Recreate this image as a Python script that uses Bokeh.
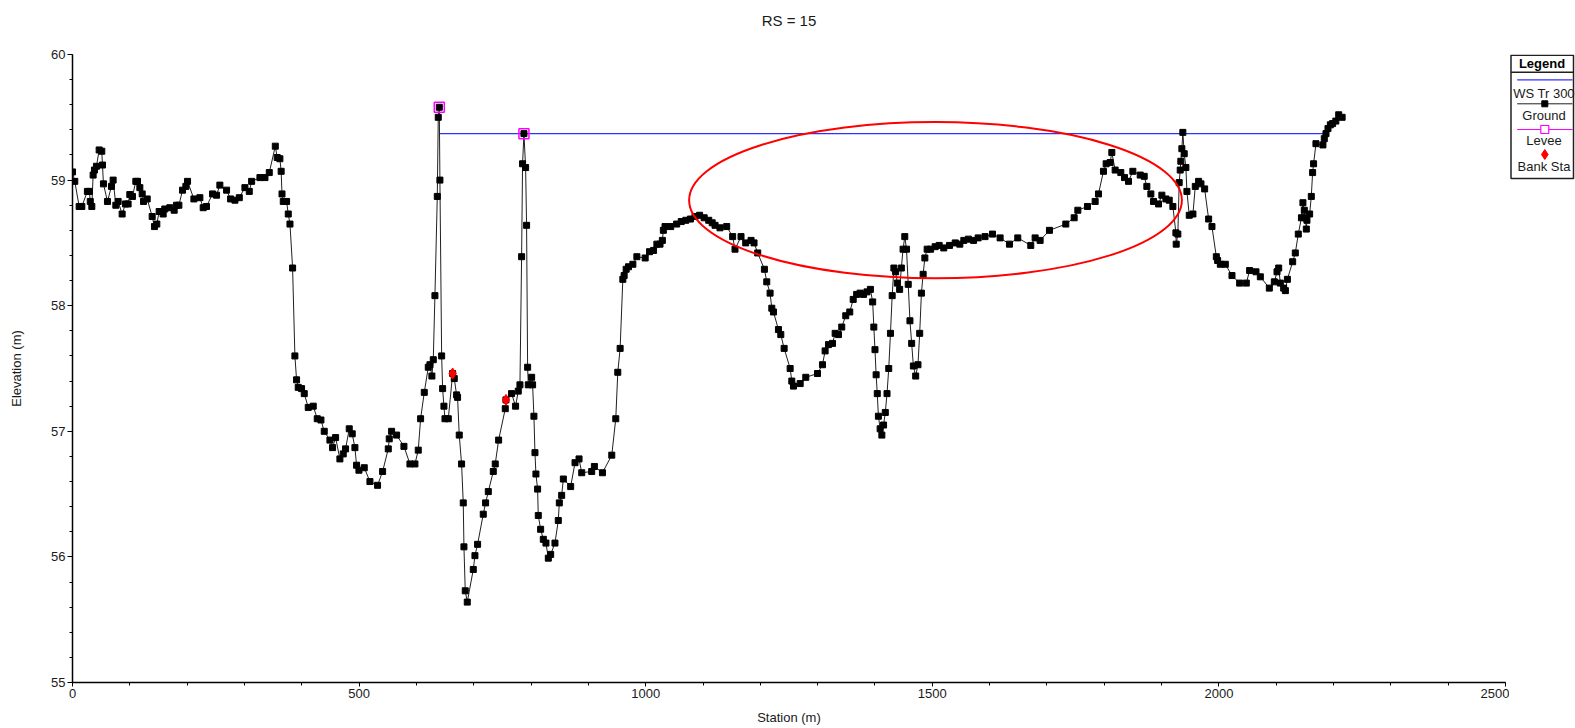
from bokeh.plotting import figure
from bokeh.models import Range1d, FixedTicker, Title
from bokeh.layouts import row
from bokeh.embed import file_html
from bokeh.resources import INLINE
from bokeh.core.properties import value

title_text = "RS = 15"
x_label = "Station (m)"
y_label = "Elevation (m)"
x_ticks = [0, 500, 1000, 1500, 2000, 2500]
y_ticks = [55, 56, 57, 58, 59, 60]
legend_title = "Legend"
legend_labels = ["WS Tr 300", "Ground", "Levee", "Bank Sta"]

ground_station = [
    0, 4, 11.6, 16.3, 26, 29.5, 31, 33.7, 36, 38.3, 41.8, 46.5, 51.1, 52.3, 54, 61, 68, 70.9, 75.6, 79.6,
    86.6, 92.4, 97, 100, 104.6, 110.5, 113.4, 117.5, 121.6, 123.9, 130.3, 139, 143, 147.1, 151.2, 158.2,
    161, 169.8, 177.4, 181.5, 185.6, 192, 197.8, 200.7, 211.8, 222.2, 228, 233.8, 244.3, 251.3, 257.1,
    268.8, 275.8, 283.4, 291, 300.8, 308.4, 312.5, 327, 335.8, 343.3, 353.8, 357.1, 361.8, 364, 365.5,
    367.7, 373.5, 376.4, 379.4, 384,
    388, 390.9, 393.8, 399.6, 404.3, 411.3, 420, 427, 433.4, 439.2, 449.1, 453.7, 459, 466.5, 472.3,
    476.4, 482.8, 488, 492.7, 495.6, 499.7, 509, 518.9, 532.2, 541, 550.9, 552.6, 556.7, 565.4, 578.2,
    588.7, 597.4, 603.2, 607.3, 613.7, 620.7, 623.6, 627, 629.4, 632.3, 636.4, 638.1, 639.9, 641, 644,
    645.7, 648, 649.8, 655.6, 663.2, 666, 670.1, 671.8, 674.7, 678.8, 681.7,
    682.9, 685.2, 688.7, 699.2, 702.1, 706.7, 716.6, 720.7, 725.4, 734.1, 737.5, 743.4, 755, 756.2, 766,
    773, 777.7, 780.6, 783.5, 785.2, 787.6, 790.5, 792.2, 794, 795.2, 801, 802.7, 805, 806.8, 808.5,
    811.4, 812.6, 816.7, 821.4, 826, 830.1, 834.2, 841.7, 847.5, 849.3, 853.4, 856.3, 869.1, 876.7,
    883.7, 888.4, 905.8, 910.5, 924.5, 940.8, 947.8, 951.3, 955.4, 960.1, 962.4, 965.9, 970, 977.6,
    984.6, 999.1, 1006.7, 1013.7, 1019.5, 1025, 1029.1, 1030.8, 1033.7, 1043.6, 1054,
    1062, 1070, 1078, 1086, 1094, 1102, 1110, 1116,
    1121, 1129.6, 1141.3, 1151.7, 1155.8, 1166.3, 1174.5, 1183.8, 1189, 1195.4, 1207.1, 1211.2, 1217,
    1220, 1222.9, 1231.6, 1235.7, 1241.5, 1252, 1254.9, 1257.8, 1269.5, 1279.3, 1299.7, 1308.4, 1313,
    1318.9, 1325.9, 1330.5, 1336.3,
    1342, 1349, 1356, 1362, 1368, 1374, 1380, 1386, 1392, 1396, 1398, 1400, 1402, 1404, 1406, 1409,
    1412, 1415, 1418, 1421, 1424, 1427, 1430, 1433, 1436, 1439, 1443, 1446, 1449, 1452, 1455, 1458,
    1461, 1464, 1467, 1471, 1475, 1478, 1481, 1484, 1487, 1491, 1497, 1505, 1512, 1520, 1530, 1540,
    1548, 1555, 1563, 1572, 1580, 1592, 1605,
    1618.3, 1634.6, 1649.1, 1671.8, 1679.4, 1688.1, 1704.4, 1732.9, 1747.5, 1753.9, 1770.7, 1784.1,
    1789.9, 1798.6, 1803.3, 1810.3, 1813.2, 1819, 1828.9, 1835.3, 1842.3, 1849.9, 1862.7, 1869.7,
    1874.3, 1881.3, 1886, 1894.7, 1900.5, 1907.5, 1913.3, 1919.7, 1925, 1925.5, 1928.4, 1930.7, 1932.5,
    1933.6, 1935.4, 1937.1, 1939.5, 1942.4, 1944.2, 1948.3, 1954.7, 1958.8, 1964.6, 1968.7, 1975.1,
    1982.1, 1987.9, 1995.5, 1997.8, 2002.5, 2011.2, 2022.8, 2036.2, 2047.8, 2053.6, 2064.7, 2072.3,
    2088, 2096.7, 2101.4, 2104.3, 2107.2, 2113, 2116, 2119.5, 2128.7, 2133.3, 2138.5, 2144, 2146.6,
    2149, 2150.7, 2152.5, 2153.6, 2158.3, 2161.2, 2163.5, 2165.2, 2169.3, 2181.5, 2183.9, 2186.8,
    2190.3, 2194.4, 2198.4, 2204, 2209, 2215,
]

ground_elev = [
    59.065, 58.99, 58.79, 58.79, 58.91, 58.91, 58.83, 58.79, 59.04, 59.08, 59.11, 59.24, 59.23, 59.12,
    58.97, 58.83, 58.95, 59.00, 58.80, 58.83, 58.73, 58.81, 58.81, 58.885, 58.87, 58.99, 58.99, 58.94,
    58.89, 58.83, 58.85, 58.71, 58.63, 58.65, 58.75, 58.73, 58.77, 58.78, 58.76, 58.80, 58.80, 58.92,
    58.95, 58.99, 58.85, 58.86, 58.78, 58.79, 58.89, 58.88, 58.96, 58.92, 58.85, 58.84, 58.86, 58.94,
    58.91, 58.99, 59.02, 59.02, 59.06, 59.27, 59.18, 59.17, 59.07, 58.89, 58.83, 58.83, 58.73, 58.65,
    58.30,
    57.60, 57.41, 57.35, 57.34, 57.30, 57.19, 57.20, 57.10, 57.09, 57.00, 56.93, 56.87, 56.95, 56.78,
    56.82, 56.86, 57.02, 56.98, 56.87, 56.73, 56.69, 56.71, 56.60, 56.57, 56.68, 56.86, 56.94, 57.00,
    56.97, 56.88, 56.74, 56.74, 56.85, 57.10, 57.31, 57.51, 57.53, 57.44, 57.57, 58.08, 58.87, 59.50,
    59.58, 59.00, 57.60, 57.34, 57.20, 57.10, 57.10, 57.46, 57.42, 57.29, 57.27, 56.97, 56.74, 56.43,
    56.08, 55.73, 55.64, 55.90, 56.01, 56.10, 56.34, 56.43, 56.52, 56.68, 56.74, 56.93, 57.18, 57.25,
    57.30, 57.20, 57.32, 57.37, 58.39, 59.13, 59.37, 59.10, 58.64, 57.51, 57.37, 57.43, 57.37, 57.12,
    56.83, 56.66, 56.54, 56.33, 56.22, 56.14, 56.11, 55.99, 56.02, 56.11, 56.29, 56.43, 56.49, 56.62,
    56.56, 56.75, 56.78, 56.67, 56.68, 56.72, 56.67, 56.81, 57.10, 57.47, 57.66, 58.21, 58.24, 58.29,
    58.31, 58.33, 58.39, 58.38, 58.43, 58.44, 58.49, 58.49, 58.52, 58.60, 58.63, 58.63, 58.65,
    58.67, 58.68, 58.69, 58.71, 58.72, 58.70, 58.68, 58.66,
    58.64, 58.62, 58.63, 58.55, 58.45, 58.55, 58.50, 58.52, 58.50, 58.42, 58.29, 58.19, 58.10, 57.98,
    57.95, 57.81, 57.77, 57.66, 57.50, 57.40, 57.36, 57.38, 57.43, 57.46, 57.53, 57.64, 57.69, 57.70,
    57.78, 57.77,
    57.83, 57.92, 57.95, 58.05, 58.09, 58.10, 58.09, 58.11, 58.13, 58.03, 57.83, 57.65, 57.45, 57.30,
    57.12, 57.02, 56.97, 57.05, 57.15, 57.30, 57.50, 57.78, 58.08, 58.30, 58.27, 58.18, 58.13, 58.30,
    58.45, 58.55, 58.45, 58.17, 57.88, 57.70, 57.52, 57.44, 57.53, 57.78, 58.10, 58.25, 58.38, 58.45,
    58.45, 58.47, 58.48, 58.46, 58.48, 58.50, 58.49, 58.52, 58.53, 58.52, 58.54, 58.55, 58.57,
    58.54, 58.49, 58.54, 58.48, 58.54, 58.52, 58.60, 58.65, 58.70, 58.76, 58.79, 58.83, 58.89, 59.07,
    59.13, 59.14, 59.22, 59.08, 59.06, 59.02, 58.99, 59.07, 59.04, 59.03, 58.95, 58.89, 58.83, 58.81,
    58.88, 58.85, 58.84, 58.79, 58.58, 58.49, 58.57, 58.98, 59.08, 59.15, 59.25, 59.38, 59.21, 59.10,
    58.91, 58.72, 58.73, 58.95, 58.99, 58.97, 58.93, 58.69, 58.63, 58.39, 58.36, 58.33, 58.33, 58.24,
    58.18, 58.18, 58.28, 58.27, 58.23, 58.14, 58.19, 58.27, 58.30, 58.18, 58.14, 58.12, 58.21, 58.35,
    58.42, 58.57, 58.70, 58.82, 58.76, 58.70, 58.61, 58.68, 58.73, 58.87, 59.06, 59.13, 59.29, 59.28,
    59.33, 59.37, 59.41, 59.44, 59.45, 59.47, 59.52, 59.50,
]

levee_station = [639.9, 787.6]
levee_elev = [59.58, 59.37]
bank_station = [663.2, 756.2]
bank_elev = [57.46, 57.25]
ws_station = [639.9, 2186.0]
ws_elev = [59.37, 59.37]

# hand-drawn highlight ellipse (centre station, centre elevation, width m, height m)
ellipse_x = 1505.6
ellipse_y = 58.84
ellipse_w = 859.7
ellipse_h = 1.244

FONT = "Liberation Sans"
TXT = "#1a1a1a"

p = figure(width=1509, height=728, x_range=Range1d(0, 2500), y_range=Range1d(55, 60),
           output_backend="svg", toolbar_location=None,
           min_border_left=72, min_border_right=4, min_border_top=54, min_border_bottom=46)

# spacer between frame and title, then the title itself (stacked outward from the frame)
spacer = Title(text=" ", text_font=FONT, text_font_size="10px", standoff=13)
p.add_layout(spacer, "above")
title = Title(text=title_text, align="center", text_font=FONT, text_font_size="15px",
              text_font_style="normal", text_color=TXT, standoff=0)
p.add_layout(title, "above")

p.xgrid.visible = False
p.ygrid.visible = False
p.outline_line_color = None
p.background_fill_color = "white"
p.border_fill_color = "white"

p.xaxis.ticker = FixedTicker(ticks=x_ticks, minor_ticks=list(range(0, 2501, 100)))
p.yaxis.ticker = FixedTicker(ticks=y_ticks, minor_ticks=[55 + 0.2 * i for i in range(26)])
for ax in (p.xaxis[0], p.yaxis[0]):
    ax.axis_line_color = "black"
    ax.axis_line_width = 1.5
    ax.major_tick_line_color = "black"
    ax.minor_tick_line_color = "black"
    ax.major_tick_in = 0
    ax.minor_tick_in = 0
    ax.major_label_text_font = FONT
    ax.major_label_text_font_size = "13px"
    ax.major_label_text_color = TXT
    ax.axis_label_text_font = FONT
    ax.axis_label_text_font_size = "13px"
    ax.axis_label_text_font_style = "normal"
    ax.axis_label_text_color = TXT

p.xaxis.axis_label = x_label
p.yaxis.axis_label = y_label
p.xaxis.major_tick_out = 4
p.xaxis.minor_tick_out = 3
p.xaxis.major_label_standoff = 2
p.xaxis.axis_label_standoff = 9
p.yaxis.major_tick_out = 5
p.yaxis.minor_tick_out = 3
p.yaxis.major_label_standoff = 2
p.yaxis.axis_label_standoff = 24

# water surface
p.line(ws_station, ws_elev, line_color="#3030ff", line_width=1.2)
# ground
p.line(ground_station, ground_elev, line_color="#202020", line_width=1)
p.scatter(ground_station, ground_elev, marker="square", size=6, fill_color="black",
          line_color="black", line_width=1)
# levees
p.scatter(levee_station, levee_elev, marker="square", size=10, fill_color=None,
          line_color="#ff00ff", line_width=1.5)
# bank stations
p.scatter(bank_station, bank_elev, marker="diamond", size=11, fill_color="red", line_color="red")
# highlight ellipse
p.ellipse(x=[ellipse_x], y=[ellipse_y], width=[ellipse_w], height=[ellipse_h],
          fill_color=None, line_color="#ff0000", line_width=2)

# legend panel: its frame is aligned with the main frame (screen y 54..682),
# so the range maps data units 1:1 onto page pixels.
LW = 66
leg = figure(width=LW, height=728, x_range=Range1d(0, LW), y_range=Range1d(682, 54),
             output_backend="svg", toolbar_location=None, x_axis_type=None, y_axis_type=None,
             min_border=0)
leg.xgrid.visible = False
leg.ygrid.visible = False
leg.outline_line_color = None
leg.background_fill_color = "white"
leg.border_fill_color = "white"

leg.quad(left=[1.5], right=[64], top=[54.8], bottom=[178], fill_color="white",
         line_color="#202020", line_width=1.5)
leg.text(x=[32.5], y=[63], text=[legend_title], text_font=value(FONT), text_font_style="bold",
         text_font_size="13px", text_align="center", text_baseline="middle", text_color="black")
leg.line([1.5, 64], [71.7, 71.7], line_color="#202020", line_width=1.5)

label_y = [92.8, 115, 140, 166]
glyph_y = [79.3, 103.3, 129, 154]
leg.text(x=[34.5] * 4, y=label_y, text=legend_labels, text_font=value(FONT), text_font_size="13px",
         text_align="center", text_baseline="middle", text_color=TXT)
leg.line([7.7, 63], [glyph_y[0]] * 2, line_color="#3030ff", line_width=1.2)
leg.line([7.7, 63], [glyph_y[1]] * 2, line_color="#202020", line_width=1)
leg.scatter([35.3], [glyph_y[1]], marker="square", size=6, fill_color="black", line_color="black")
leg.line([7.7, 63], [glyph_y[2]] * 2, line_color="#ff00ff", line_width=1)
leg.scatter([35.3], [glyph_y[2]], marker="square", size=8, fill_color="white",
            line_color="#ff00ff", line_width=1.2)
leg.scatter([35.3], [glyph_y[3]], marker="diamond", size=10, fill_color="red", line_color="red")

layout = row(p, leg)
open("out.html", "w").write(file_html(layout, INLINE))
